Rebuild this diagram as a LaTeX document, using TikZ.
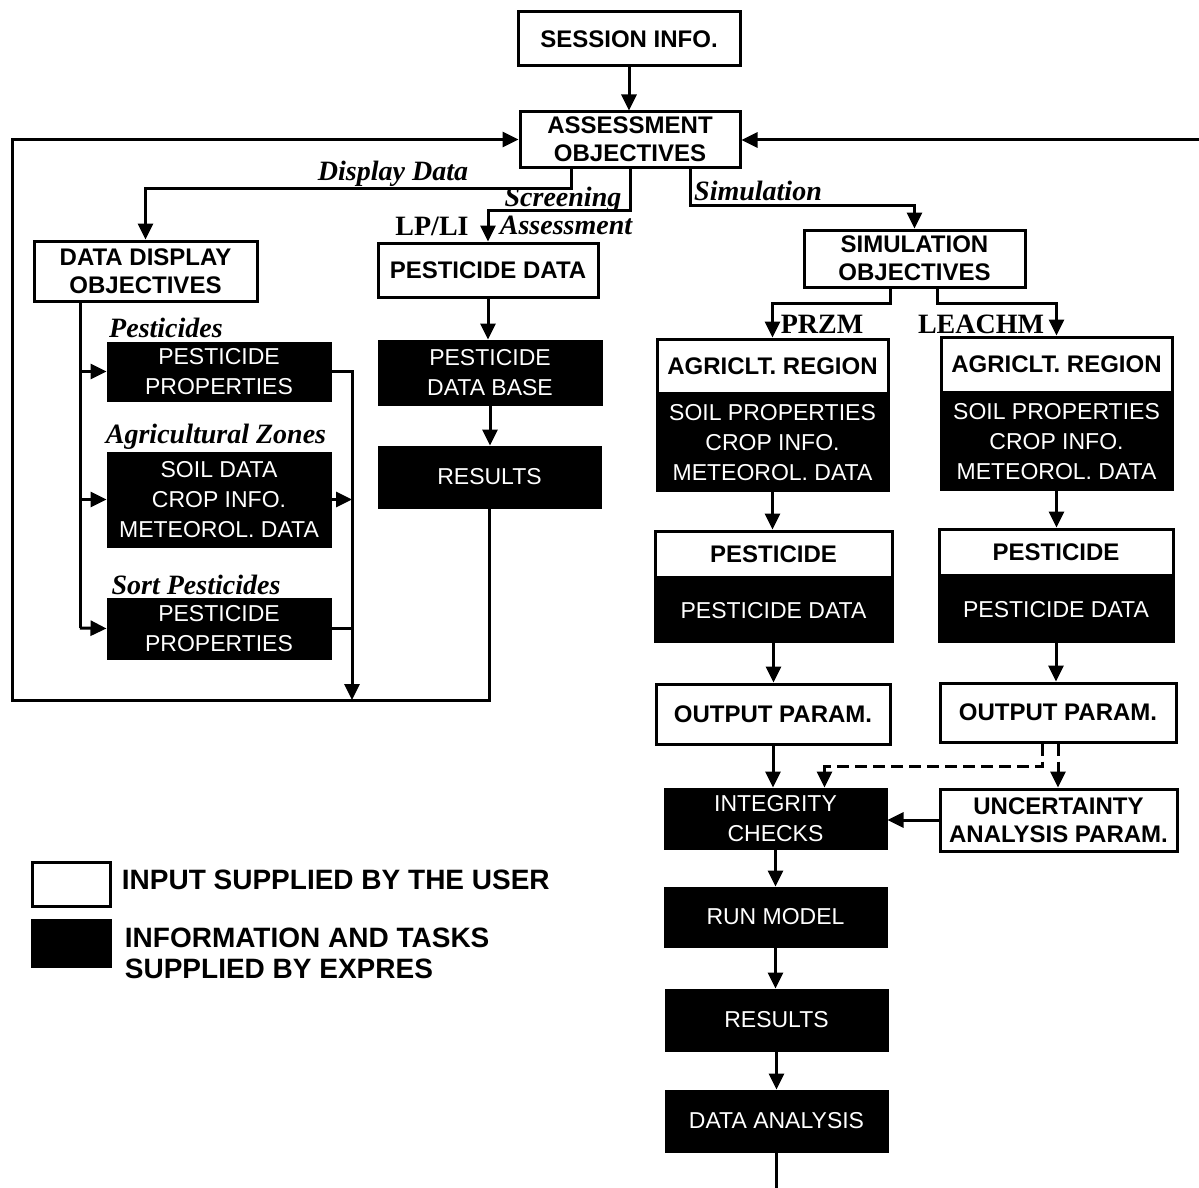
\documentclass[tikz,border=0pt]{standalone}
\usepackage{fontspec}
\setmainfont{Liberation Serif}
\setsansfont{Liberation Sans}
\usetikzlibrary{arrows.meta, positioning, calc}
\tikzset{
    inBox/.style={
        draw=black,
        fill=white,
        line width=1.5pt,
        inner sep=2pt,
        align=center,
        font=\sffamily\bfseries\fontsize{12}{14}\selectfont
    },
    taskBox/.style={
        draw=black,
        fill=black,
        text=white,
        line width=1.5pt,
        inner sep=2pt,
        align=center,
        font=\sffamily\fontsize{11.5}{15}\selectfont
    },
    flowLine/.style={
        line width=1.5pt
    },
    flowArrow/.style={
        line width=1.5pt,
        -{Triangle[length=8pt, width=7.5pt]}
    },
    branchLbl/.style={
        anchor=base,
        inner sep=0pt,
        font=\rmfamily\bfseries\itshape\fontsize{14}{14}\selectfont
    },
    modelLbl/.style={
        anchor=base,
        inner sep=0pt,
        font=\rmfamily\bfseries\fontsize{14}{14}\selectfont
    },
    legendTxt/.style={
        align=left,
        inner sep=0pt,
        font=\sffamily\bfseries\fontsize{14}{15.5}\selectfont
    }
}

\begin{document}
\begin{tikzpicture}[x=0.5pt, y=-0.5pt]

    \useasboundingbox (0,0) rectangle (1199,1188);

    % Top of the chart
    \node[inBox, minimum width=111pt, minimum height=27pt] (sessInfo) at (629,39) {SESSION INFO.};
    \node[inBox, minimum width=110pt, minimum height=27.5pt] (assessObj) at (630,139.5) {ASSESSMENT\\OBJECTIVES};

    % Display data branch
    \node[inBox, minimum width=111.5pt, minimum height=30pt] (dispObj) at (145.5,271) {DATA DISPLAY\\OBJECTIVES};
    \node[taskBox, minimum width=111pt, minimum height=28.5pt] (propA) at (219,371.5) {PESTICIDE\\PROPERTIES};
    \node[taskBox, minimum width=111pt, minimum height=46.5pt] (agZone) at (219,499.5) {SOIL DATA\\CROP INFO.\\METEOROL. DATA};
    \node[taskBox, minimum width=111pt, minimum height=29.5pt] (propB) at (219,628.5) {PESTICIDE\\PROPERTIES};

    % Screening branch
    \node[inBox, minimum width=110pt, minimum height=27pt] (pestData) at (488,270) {PESTICIDE DATA};
    \node[taskBox, minimum width=111pt, minimum height=31.5pt] (pestBase) at (490,372.5) {PESTICIDE\\DATA BASE};
    \node[taskBox, minimum width=110.5pt, minimum height=30pt] (resPest) at (489.5,477) {RESULTS};

    % Simulation branch
    \node[inBox, minimum width=110.5pt, minimum height=28.5pt] (simObj) at (914.5,258.5) {SIMULATION\\OBJECTIVES};

    \node[inBox, minimum width=115.5pt, minimum height=27pt] (agrL) at (772.5,366) {AGRICLT. REGION};
    \node[taskBox, minimum width=115.5pt, minimum height=47pt, below=0pt of agrL] (agrLData) {SOIL PROPERTIES\\CROP INFO.\\METEOROL. DATA};
    \node[inBox, minimum width=115.5pt, minimum height=27.5pt] (agrR) at (1056.5,364.5) {AGRICLT. REGION};
    \node[taskBox, minimum width=115.5pt, minimum height=47pt, below=0pt of agrR] (agrRData) {SOIL PROPERTIES\\CROP INFO.\\METEOROL. DATA};

    \node[inBox, minimum width=118.5pt, minimum height=23pt] (pestL) at (773.5,554) {PESTICIDE};
    \node[taskBox, minimum width=118.5pt, minimum height=30.5pt, below=0pt of pestL] (pestLData) {PESTICIDE DATA};
    \node[inBox, minimum width=117pt, minimum height=23pt] (pestR) at (1056,552) {PESTICIDE};
    \node[taskBox, minimum width=117pt, minimum height=31.5pt, below=0pt of pestR] (pestRData) {PESTICIDE DATA};

    \node[inBox, minimum width=117pt, minimum height=30pt] (outL) at (773,714) {OUTPUT PARAM.};
    \node[inBox, minimum width=118pt, minimum height=29.5pt] (outR) at (1058,712.5) {OUTPUT PARAM.};

    \node[taskBox, minimum width=110.5pt, minimum height=29.5pt] (integ) at (775.5,818.5) {INTEGRITY\\CHECKS};
    \node[inBox, minimum width=118.5pt, minimum height=31pt] (uncert) at (1058.5,820) {UNCERTAINTY\\ANALYSIS PARAM.};
    \node[taskBox, minimum width=110.5pt, minimum height=29pt] (runModel) at (775.5,917) {RUN MODEL};
    \node[taskBox, minimum width=110.5pt, minimum height=30pt] (resSim) at (776.5,1020) {RESULTS};
    \node[taskBox, minimum width=110.5pt, minimum height=30pt] (dataAna) at (776.5,1121) {DATA ANALYSIS};

    % Branch labels
    \node[branchLbl] (lblDisp) at (393,180) {Display Data};
    \node[branchLbl] (lblScreen) at (563,206) {Screening};
    \node[branchLbl] (lblAssess) at (566,234) {Assessment};
    \node[modelLbl] (lblLPLI) at (432,235) {LP/LI};
    \node[branchLbl] (lblSim) at (758,200) {Simulation};
    \node[modelLbl] (lblPRZM) at (822,333) {PRZM};
    \node[modelLbl] (lblLEACHM) at (981,333) {LEACHM};
    \node[branchLbl] (lblPest) at (166,337) {Pesticides};
    \node[branchLbl] (lblAgZone) at (216,443) {Agricultural Zones};
    \node[branchLbl] (lblSort) at (196,594) {Sort Pesticides};

    % Turning points of the connectors
    \coordinate (dispTurn) at (571,188);
    \coordinate (scrTurn) at (630,210);
    \coordinate (simTurn) at (690,205);
    \coordinate (przmTurn) at (890,303);
    \coordinate (leachTurn) at (937,303);
    \coordinate (spine) at (80,628);
    \coordinate (joinB) at (352,700);
    \coordinate (loopCorner) at (12,700);
    \coordinate (dashTurn) at (1042,766);
    \coordinate (retIn) at (1199,140);
    \coordinate (exitOut) at (776.5,1188);

    % Connectors, top part
    \draw[flowArrow] (sessInfo.south) -- (sessInfo.south |- assessObj.north);
    \draw[flowArrow] (dispTurn |- assessObj.south) -- (dispTurn) -| (dispObj.north);
    \draw[flowArrow] (scrTurn |- assessObj.south) -- (scrTurn) -| (pestData.north);
    \draw[flowArrow] (simTurn |- assessObj.south) -- (simTurn) -| (simObj.north);
    \draw[flowArrow] (retIn) -- (retIn -| assessObj.east);

    % Display data connectors
    \draw[flowLine] (spine |- dispObj.south) -- (spine);
    \draw[flowArrow] (spine |- propA.west) -- (propA.west);
    \draw[flowArrow] (spine |- agZone.west) -- (agZone.west);
    \draw[flowArrow] (spine) -- (propB.west);
    \draw[flowArrow] (propA.east) -| (joinB);
    \draw[flowArrow] (agZone.east) -- (agZone.east -| joinB);
    \draw[flowLine] (propB.east) -- (propB.east -| joinB);

    % Screening connectors and return loop
    \draw[flowArrow] (pestData.south) -- (pestData.south |- pestBase.north);
    \draw[flowArrow] (pestBase.south) -- (pestBase.south |- resPest.north);
    \draw[flowArrow] (resPest.south) |- (loopCorner) |- (assessObj.west);

    % Simulation connectors
    \draw[flowArrow] (przmTurn |- simObj.south) -- (przmTurn) -| (agrL.north);
    \draw[flowArrow] (leachTurn |- simObj.south) -- (leachTurn) -| (agrR.north);
    \draw[flowArrow] (agrLData.south) -- (agrLData.south |- pestL.north);
    \draw[flowArrow] (agrRData.south) -- (agrRData.south |- pestR.north);
    \draw[flowArrow] (pestLData.south) -- (pestLData.south |- outL.north);
    \draw[flowArrow] (pestRData.south) -- (pestRData.south |- outR.north);
    \draw[flowArrow] (outL.south) -- (outL.south |- integ.north);
    \draw[flowArrow, dash pattern=on 6pt off 3pt] (dashTurn |- outR.south) -- (dashTurn) -| ($(integ.north)+(49,0)$);
    \draw[flowArrow, dash pattern=on 6pt off 3pt] (outR.south) -- (outR.south |- uncert.north);
    \draw[flowArrow] (uncert.west) -- (uncert.west -| integ.east);
    \draw[flowArrow] (integ.south) -- (integ.south |- runModel.north);
    \draw[flowArrow] (runModel.south) -- (runModel.south |- resSim.north);
    \draw[flowArrow] (resSim.south) -- (resSim.south |- dataAna.north);
    \draw[flowLine] (dataAna.south) -- (exitOut);

    % Legend
    \node[inBox, minimum width=39pt, minimum height=22pt] (legIn) at (71,884) {};
    \node[taskBox, minimum width=39pt, minimum height=23pt] (legTask) at (71,943) {};
    \node[legendTxt, right=5pt of legIn, yshift=2pt] (legInTxt) {INPUT SUPPLIED BY THE USER};
    \node[legendTxt, right=6.5pt of legTask, yshift=-5pt] (legTaskTxt) {INFORMATION AND TASKS\\SUPPLIED BY EXPRES};

\end{tikzpicture}
\end{document}
